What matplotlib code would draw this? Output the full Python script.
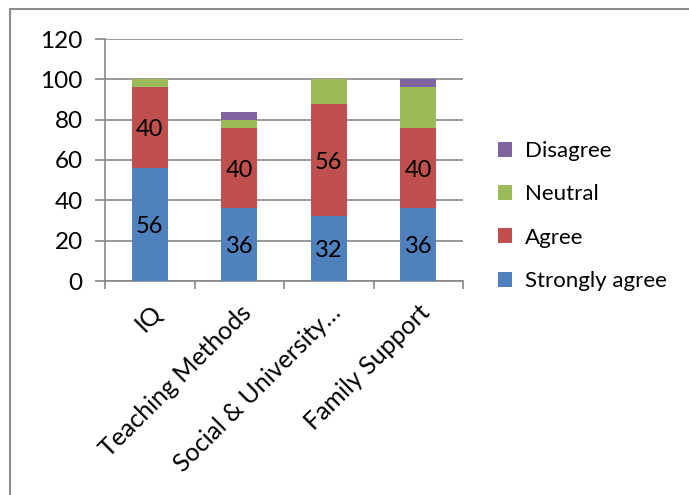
import matplotlib
matplotlib.use("Agg")
import matplotlib.pyplot as plt
from matplotlib.patches import Rectangle, Patch
import numpy as np

plt.rcParams['font.family'] = ['Lato', 'DejaVu Sans']

categories = ["IQ", "Teaching Methods", "Social & University\u2026", "Family Support"]
series_names = ["Strongly agree", "Agree", "Neutral", "Disagree"]
strongly_agree = [56, 36, 32, 36]
agree = [40, 40, 56, 40]
neutral = [4, 4, 12, 20]
disagree = [0, 4, 0, 4]
colors = ["#4F81BD", "#C0504D", "#9BBB59", "#8064A2"]
yticks = [0, 20, 40, 60, 80, 100, 120]

fig = plt.figure(figsize=(6.89, 4.95), dpi=100)
ax = fig.add_axes([105/689, 1-281/495, 358/689, 242/495])

x = np.arange(len(categories))
bottom = np.zeros(len(categories))
series = [strongly_agree, agree, neutral, disagree]
bars = []
for vals, c in zip(series, colors):
    b = ax.bar(x, vals, width=0.4, bottom=bottom, color=c, zorder=3)
    bars.append(b)
    bottom = bottom + np.array(vals)

# data labels for first two series
for b, vals in zip(bars[:2], series[:2]):
    for rect, v in zip(b, vals):
        ax.text(rect.get_x() + rect.get_width()/2, rect.get_y() + rect.get_height()/2 - 1,
                f"{v}", ha='center', va='center', fontsize=17, color='black', zorder=4)

ax.set_xlim(-0.5, len(categories) - 0.5)
ax.set_ylim(0, 120)
ax.set_yticks(yticks)
ax.set_yticklabels([str(t) for t in yticks], fontsize=17.5)
ax.yaxis.grid(True, color='#878787', linewidth=1.2, zorder=0)
ax.set_axisbelow(True)

for s in ['top', 'right']:
    ax.spines[s].set_visible(False)
ax.spines['left'].set_color('#878787')
ax.spines['bottom'].set_color('#878787')
ax.spines['left'].set_linewidth(1.2)
ax.spines['bottom'].set_linewidth(1.2)
ax.tick_params(axis='y', direction='out', length=7, color='#878787', width=1.2, pad=9)

# x ticks at category boundaries
ax.set_xticks(np.arange(-0.5, len(categories), 1.0))
ax.set_xticklabels([])
ax.tick_params(axis='x', direction='out', length=6, color='#878787', width=1.2)
ax.set_xticks(x, minor=True)
ax.set_xticklabels(categories, minor=True, rotation=45, ha='right', va='top',
                   rotation_mode='anchor', fontsize=18)
ax.tick_params(axis='x', which='minor', length=0, pad=14)

handles = [Patch(facecolor=c, edgecolor='none') for c in colors]
leg = fig.legend(handles[::-1], series_names[::-1], loc='center left',
                 bbox_to_anchor=(478/689, 1-216/495), frameon=False, fontsize=16,
                 handlelength=0.65, handleheight=0.65, handletextpad=0.55, labelspacing=1.05)

# outer chart frame (top and left visible)
fig.patches.append(Rectangle((10/689, -0.05), 1.2, (1-9/495) + 0.05, transform=fig.transFigure,
                             fill=False, edgecolor='#8c8c8c', linewidth=1.5))

fig.savefig("out.png", dpi=100)
